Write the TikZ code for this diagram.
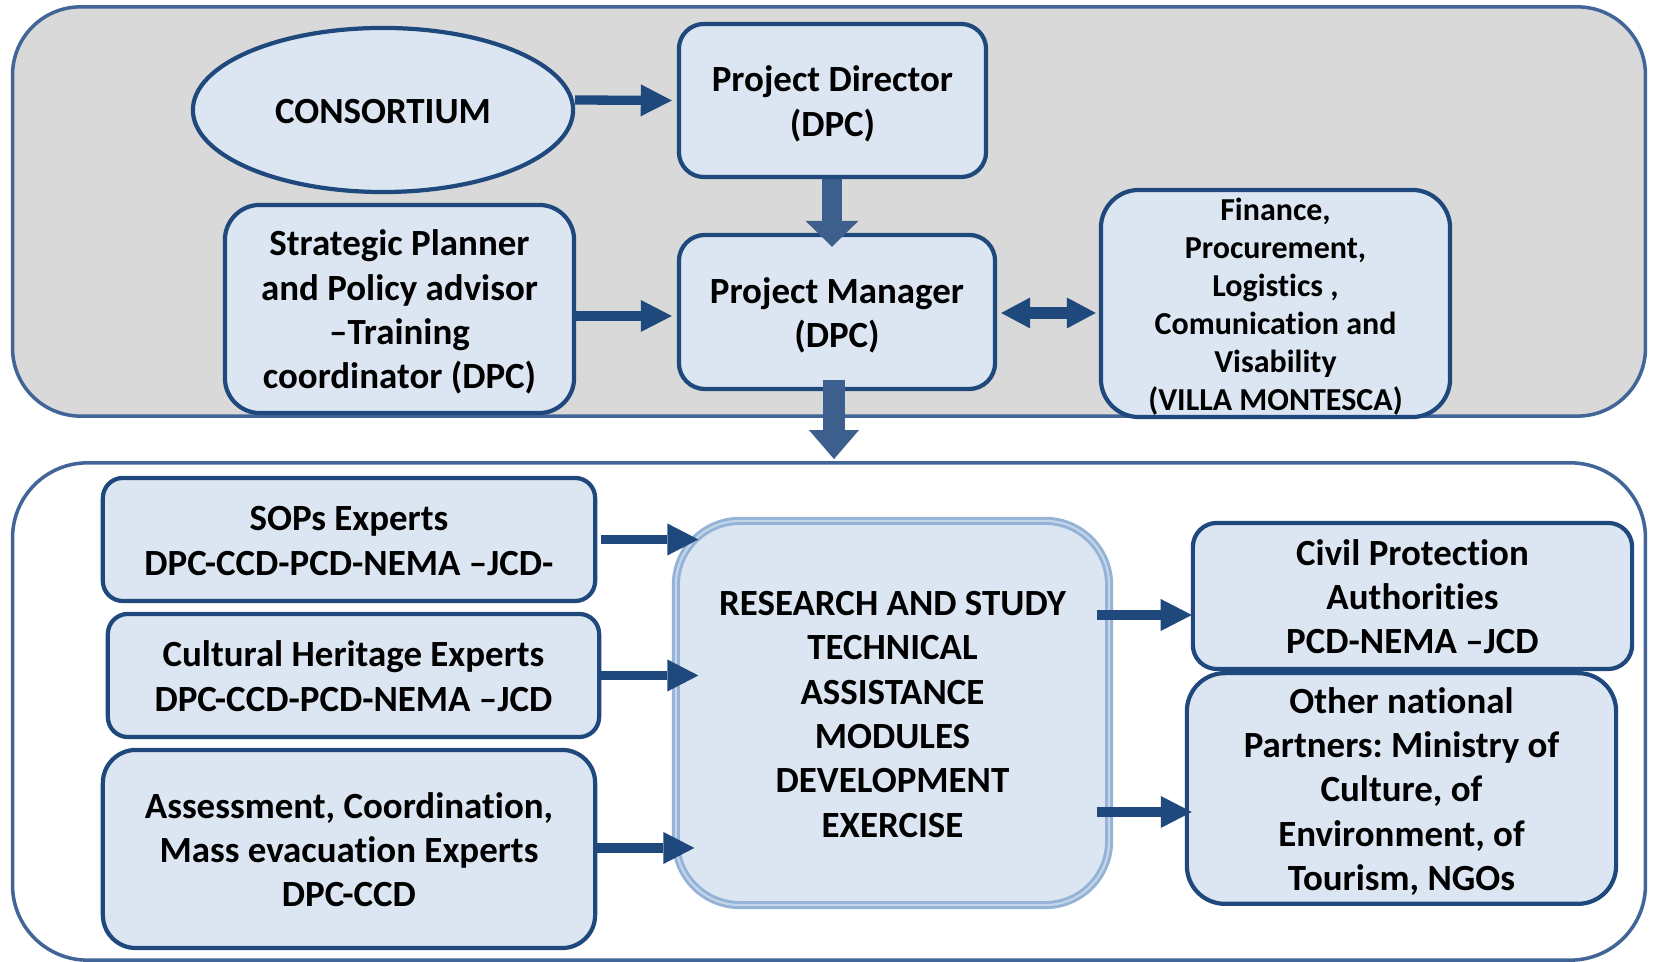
\documentclass[tikz,border=0pt]{standalone}
\usepackage{fontspec}
\setmainfont{Carlito}[Ligatures={TeX,NoCommon}]
\frenchspacing
\usetikzlibrary{shapes.geometric,arrows.meta,calc}
\definecolor{panelgray}{HTML}{D9D9D9}
\definecolor{panelborder}{HTML}{416596}
\definecolor{boxfill}{HTML}{DCE6F2}
\definecolor{boxborder}{HTML}{1F497D}
\definecolor{arrowdark}{HTML}{1F497D}
\definecolor{arrowmid}{HTML}{3C5F8E}
\definecolor{resborder}{HTML}{95B3D7}
\definecolor{resinner}{HTML}{C6D6EA}
\newcommand\tl[1]{\raisebox{0pt}[\dimexpr\height+2.6pt\relax][\depth]{\begin{tabular}{@{}c@{}}#1\end{tabular}}}
\newcommand\tlf[1]{\raisebox{0pt}[\dimexpr\height-0.3pt\relax][\dimexpr\depth-2.7pt\relax]{\begin{tabular}{@{}c@{}}#1\end{tabular}}}
\begin{document}
\begin{tikzpicture}[x=0.01cm,y=-0.01cm,
  every node/.style={font=\bfseries\fontsize{10.5}{12.6}\selectfont, align=center, inner sep=0pt},
  panel/.style={draw=panelborder, line width=1pt, rectangle},
  bx/.style={draw=boxborder, fill=boxfill, line width=1.2pt, rectangle},
  harr/.style={draw=arrowdark, line width=0.093cm, -{Triangle[width=0.32cm,length=0.31cm,line width=0pt]}},
  darr/.style={draw=arrowdark, line width=0.12cm, {Triangle[width=0.31cm,length=0.29cm,line width=0pt]}-{Triangle[width=0.31cm,length=0.29cm,line width=0pt]}},
  varrA/.style={draw=arrowmid, line width=0.2cm, -{Triangle[width=0.53cm,length=0.26cm,line width=0pt]}},
  varrB/.style={draw=arrowmid, line width=0.22cm, -{Triangle[width=0.50cm,length=0.29cm,line width=0pt]}}
]
\useasboundingbox (0,0) rectangle (1653,962);
% panels
\node[panel, fill=panelgray, rounded corners=0.68cm, minimum width=16.32cm, minimum height=4.09cm] (upper) at (829,211.5) {};
\node[panel, fill=white, rounded corners=0.75cm, minimum width=16.32cm, minimum height=4.97cm] (lower) at (829,711.5) {};
% upper boxes
\node[bx, ellipse, minimum width=3.8cm, minimum height=1.64cm] (cons) at (383,110) {\tl{CONSORTIUM}};
\node[bx, rounded corners=0.25cm, minimum width=3.07cm, minimum height=1.53cm] (pd) at (832.5,100.5) {\tl{Project Director\\(DPC)}};
\node[bx, rounded corners=0.26cm, minimum width=3.16cm, minimum height=1.54cm] (pm) at (837,312) {\tl{Project Manager\\(DPC)}};
\node[bx, rounded corners=0.35cm, minimum width=3.49cm, minimum height=2.08cm] (strat) at (399.5,309) {\tl{Strategic Planner\\and Policy advisor\\–Training\\coordinator (DPC)}};
\node[bx, rounded corners=0.38cm, minimum width=3.49cm, minimum height=2.27cm, font=\bfseries\fontsize{9.1}{10.8}\selectfont] (fin) at (1275.5,303.5) {\tlf{Finance,\\Procurement,\\Logistics ,\\Comunication and\\Visability\\(VILLA MONTESCA)}};
% lower boxes
\node[bx, rounded corners=0.2cm, minimum width=4.92cm, minimum height=1.23cm] (sops) at (349,539.5) {\tl{SOPs Experts\\DPC-CCD-PCD-NEMA –JCD-}};
\node[bx, rounded corners=0.2cm, minimum width=4.91cm, minimum height=1.23cm] (cult) at (353.5,675.5) {\tl{Cultural Heritage Experts\\DPC-CCD-PCD-NEMA –JCD}};
\node[bx, rounded corners=0.33cm, minimum width=4.92cm, minimum height=1.98cm] (assess) at (349,849) {\tl{Assessment, Coordination,\\Mass evacuation Experts\\DPC-CCD}};
\node[draw=resborder, fill=boxfill, line width=0.85pt, double=resinner, double distance=0.6pt, rounded corners=0.64cm, minimum width=4.33cm, minimum height=3.84cm] (res) at (892.5,713) {\tl{RESEARCH AND STUDY\\TECHNICAL\\ASSISTANCE\\MODULES\\DEVELOPMENT\\EXERCISE}};
\node[bx, rounded corners=0.24cm, minimum width=4.39cm, minimum height=1.46cm] (civil) at (1412.5,596) {\tl{Civil Protection\\Authorities\\PCD-NEMA –JCD}};
\node[bx, rounded corners=0.38cm, minimum width=4.29cm, minimum height=2.29cm] (other) at (1401.5,788.5) {\tl{Other national\\Partners: Ministry of\\Culture, of\\Environment, of\\Tourism, NGOs}};
% arrows upper
\draw[harr] ($(cons.east)+(0,-10)$) -- ($(pd.west)+(-5,0)$);
\draw[harr] ($(strat.east)+(0,7)$) -- ($(pm.west)+(-5,4)$);
\draw[varrA] ($(pd.south)+(-0.5,0)$) -- ($(pm.north)+(-5,14)$);
\draw[varrB] ($(pm.south)+(-3,-11)$) -- ($(pm.south |- lower.north)+(-3,-2)$);
\draw[darr] ($(pm.east)+(4,1)$) -- ($(fin.west)+(-3,9.5)$);
% arrows lower
\draw[harr] ($(sops.east)+(4,0)$) -- ($(res.west |- sops.east)+(24,0)$);
\draw[harr] ($(cult.east)+(0,0)$) -- ($(res.west |- cult.east)+(24,0)$);
\draw[harr] ($(assess.east)+(0,-1)$) -- ($(res.west |- assess.east)+(20,-1)$);
\draw[harr] ($(res.east)+(-14,-98)$) -- ($(civil.west)+(1,19)$);
\draw[harr] ($(res.east)+(-14,99)$) -- ($(other.west)+(7,23.5)$);
\end{tikzpicture}
\end{document}
